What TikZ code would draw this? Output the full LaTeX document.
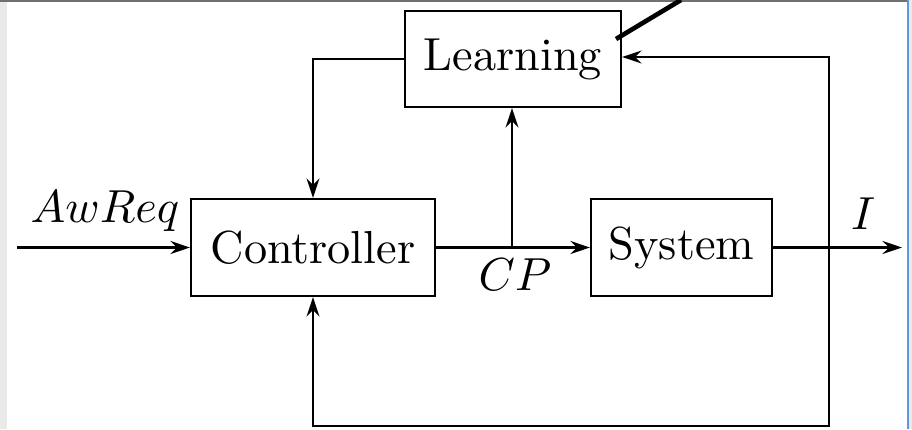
\documentclass[tikz,border=0pt]{standalone}
\usetikzlibrary{arrows.meta}
\definecolor{panelgray}{RGB}{232,234,232}
\definecolor{rimgray}{RGB}{112,112,112}
\definecolor{rimblue}{RGB}{100,150,220}
\tikzset{
  block/.style={draw, line width=0.45pt, inner sep=0pt, font=\normalsize},
  sig/.style={line width=0.45pt, -{Stealth[length=4.2pt, width=2.8pt, inset=1.4pt]}},
  wire/.style={line width=0.45pt},
}
\begin{document}
\begin{tikzpicture}[x=0.216pt, y=-0.216pt]
  \useasboundingbox (0,0) rectangle (912,429);
  % window frame
  \fill[white] (0,0) rectangle (912,429);
  \fill[panelgray] (0,0) rectangle (7,429);
  \fill[panelgray] (909,0) rectangle (912,429);
  \fill[rimblue] (907,0) rectangle (909,429);
  \fill[rimgray] (0,0) rectangle (907,2);

  % blocks
  \node[block, minimum width=46.7pt, minimum height=20.8pt] (learn) at (513,59) {Learning};
  \node[block, minimum width=52.7pt, minimum height=21pt] (ctrl) at (313,247.5) {Controller};
  \node[block, minimum width=39.1pt, minimum height=20.8pt] (sys) at (681.5,247.5) {System};

  % junctions and free ends
  \coordinate (inp) at (17,247.5);
  \coordinate (cpj) at (512,247.5);
  \coordinate (outj) at (829,247.5);
  \coordinate (outp) at (902,247.5);
  \coordinate (fbtop) at (829,57);
  \coordinate (fbbot) at (829,426);

  % signal labels
  \node[anchor=base, inner sep=0pt] (lawreq) at (105,222) {$AwReq$};
  \node[anchor=base, inner sep=0pt] (lcp) at (515,290) {$CP$};
  \node[anchor=base, inner sep=0pt] (li) at (863,229) {$I$};

  % forward path
  \draw[sig] (inp) -- (ctrl.west);
  \draw[sig] (ctrl.east) -- (sys.west);
  \draw[sig] (sys.east) -- (outp);
  \draw[sig] (cpj) -- (cpj |- learn.south);

  % learning loop
  \draw[sig] (learn.west) -| (ctrl.north);
  \draw[sig] (fbbot) -- (fbtop) -- (fbtop -| learn.east);

  % output feedback to the controller
  \draw[sig] (outj) -- (fbbot) -| (ctrl.south);

  % pen stroke over the corner of the learning block
  \draw[line width=1pt] (616,39) -- (681,0);
\end{tikzpicture}
\end{document}
